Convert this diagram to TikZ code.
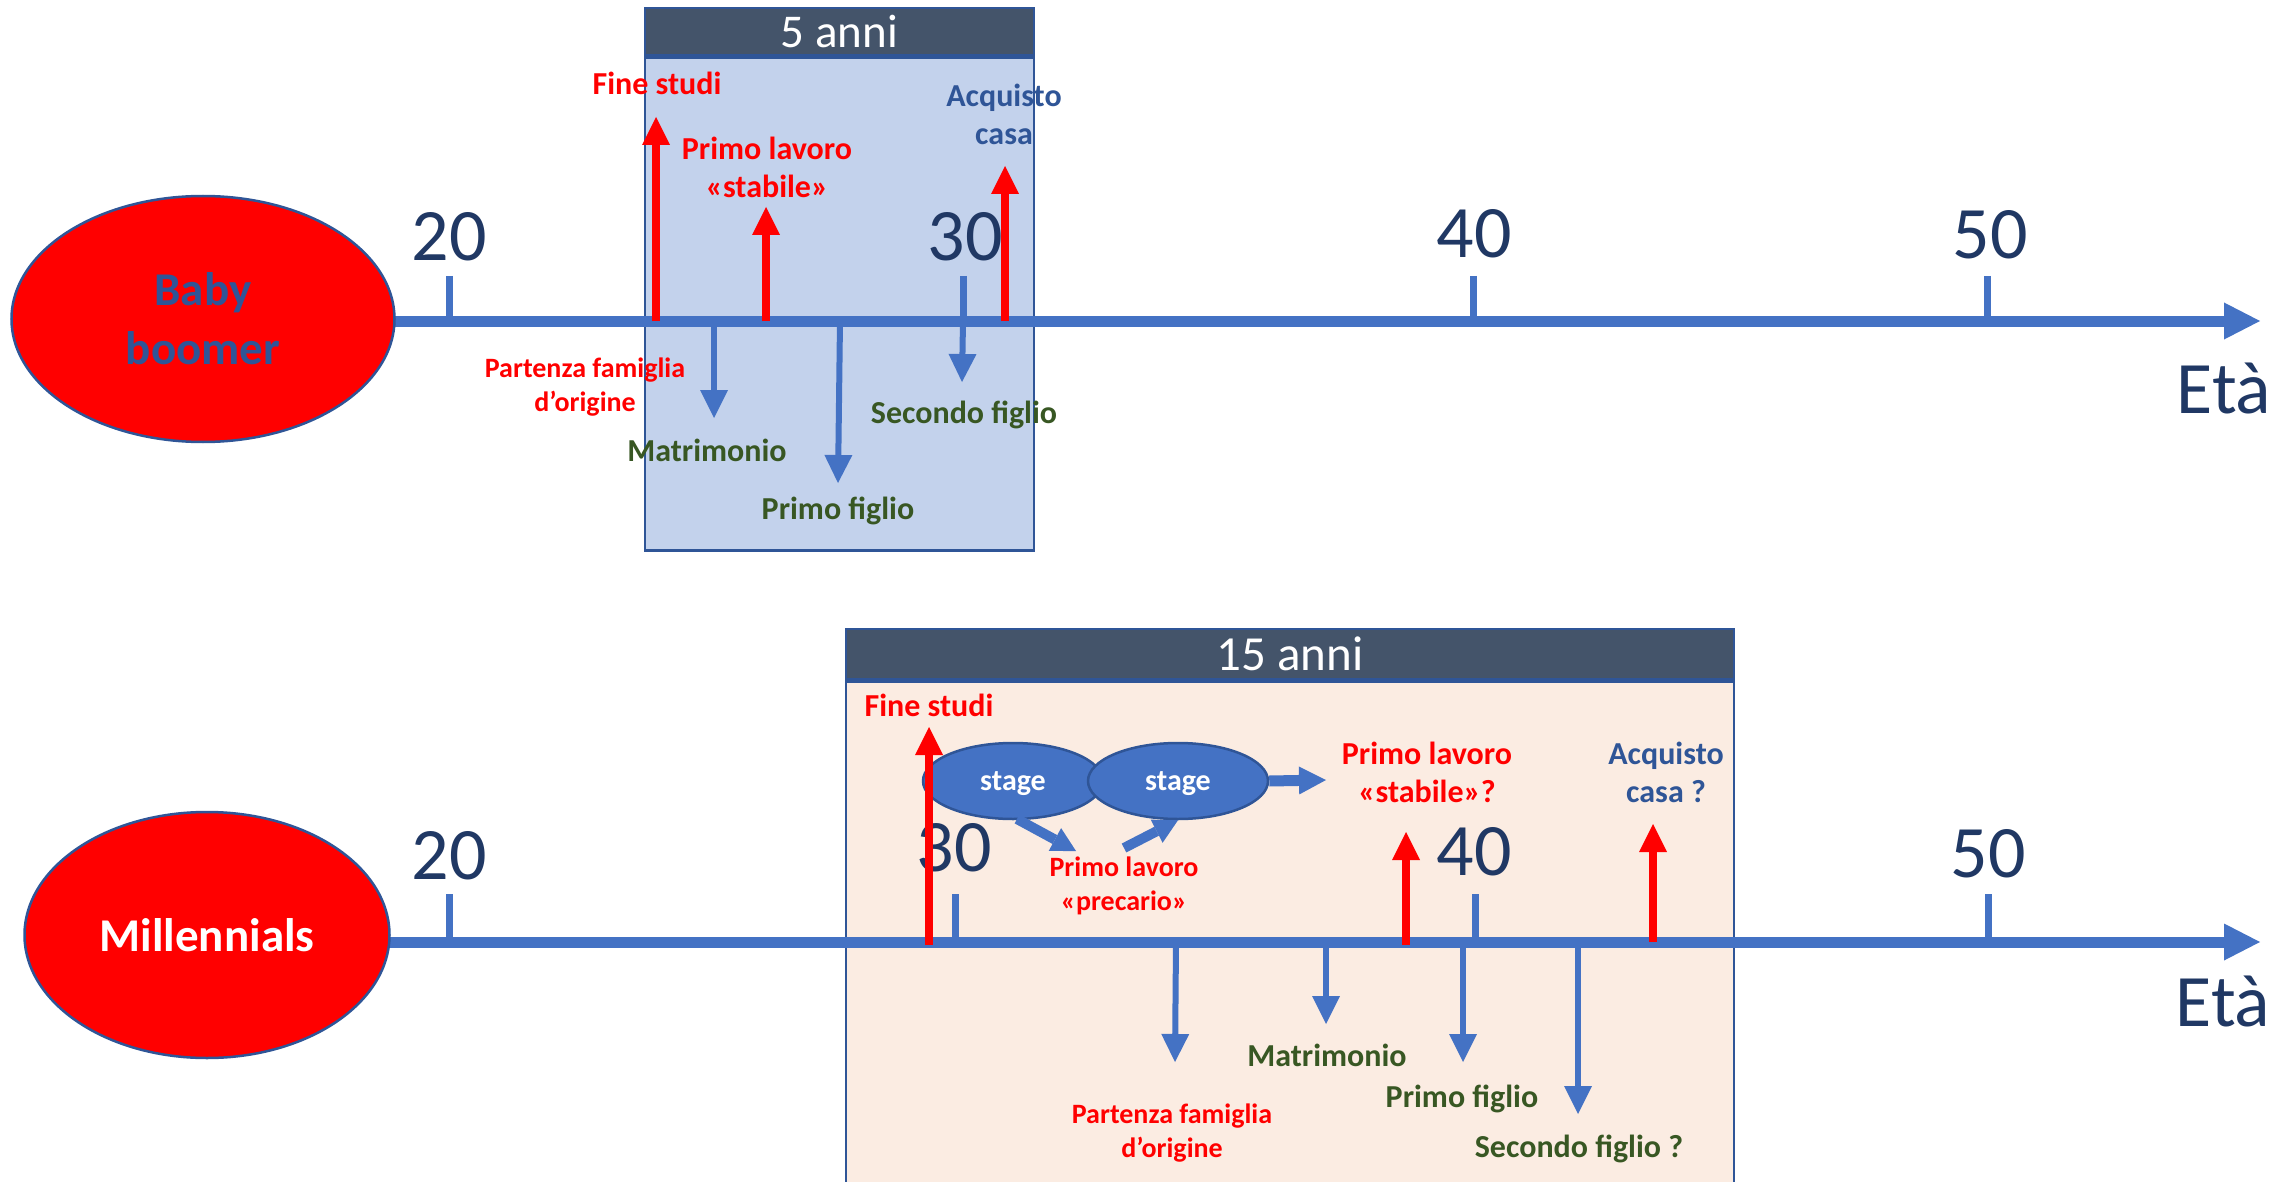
\documentclass[tikz,border=0pt]{standalone}
\usepackage{fontspec}
\setmainfont{Carlito}
\usetikzlibrary{arrows.meta,shapes.geometric}
\definecolor{axblue}{HTML}{4472C4}
\definecolor{txtblue}{HTML}{2F5597}
\definecolor{navy}{HTML}{203864}
\definecolor{grn}{HTML}{385723}
\definecolor{hdr}{HTML}{44546A}
\definecolor{boxblue}{HTML}{C3D2EC}
\definecolor{boxpeach}{HTML}{FBECE2}
\definecolor{bord}{HTML}{2F5597}
\tikzset{
 axisline/.style={draw=axblue, line width=11pt, -{Triangle[length=36pt,width=37pt,line width=0pt]}},
 tickmark/.style={draw=axblue, line width=7pt},
 ticklbl/.style={text=navy, font=\fontsize{74}{80}\selectfont},
 redup/.style={draw=red, line width=8pt, -{Triangle[length=28pt,width=28pt,line width=0pt]}},
 bluedown/.style={draw=axblue, line width=6pt, -{Triangle[length=28pt,width=28pt,line width=0pt]}},
 blockarrow/.style={draw=axblue, line width=11pt, -{Triangle[length=27pt,width=28pt,line width=0pt]}},
 diagarrow/.style={draw=axblue, line width=10pt, -{Triangle[length=24pt,width=26pt,line width=0pt]}},
 lbl/.style={font=\bfseries\fontsize{32}{38}\selectfont, align=center},
 lblsmall/.style={font=\bfseries\fontsize{28}{34}\selectfont, align=center},
 gen/.style={ellipse, fill=red, draw=bord, line width=2.5pt, font=\bfseries\fontsize{47}{59}\selectfont, align=center},
 hdrbox/.style={rectangle, fill=hdr, draw=bord, line width=2.5pt, text=white},
 stagebox/.style={ellipse, fill=axblue, draw=bord, line width=2.5pt, minimum width=180pt, minimum height=76pt, text=white, text depth=0pt, font=\bfseries\fontsize{30}{36}\selectfont},
}
\begin{document}
\begin{tikzpicture}[x=1pt,y=-1pt, every node/.style={inner sep=0pt}]
\useasboundingbox (0,0) rectangle (2294,1182);
\fill[white] (0,0) rectangle (2294,1182);
% ---------- boxes
\node[hdrbox, minimum width=389pt, minimum height=47pt, font=\fontsize{47}{54}\selectfont] (h1) at (839.5,31.5) {5 anni};
\node[rectangle, fill=boxblue, draw=bord, line width=2.5pt, minimum width=389pt, minimum height=493pt, anchor=north] (b1) at (h1.south) {};
\node[hdrbox, minimum width=888pt, minimum height=50pt, font=\fontsize{49}{56}\selectfont] (h2) at (1290,654) {15 anni};
\node[rectangle, fill=boxpeach, draw=bord, line width=2.5pt, minimum width=888pt, minimum height=530pt, anchor=north] (b2) at (h2.south) {};
% ---------- axes
\coordinate (st1) at (390,321);
\coordinate (end1) at (2260,321);
\coordinate (st2) at (386,942);
\coordinate (end2) at (2260,942);
\draw[axisline] (st1) -- (end1);
\draw[axisline] (st2) -- (end2);
% ---------- generation ellipses
\node[gen, minimum width=383pt, minimum height=246pt, text=txtblue] (bb) at (203,319) {Baby\\boomer};
\node[gen, minimum width=365pt, minimum height=246pt, text=white] (mil) at (207,935) {Millennials};
% ticks top
\draw[tickmark] (449,276) -- (449,321);
\draw[tickmark] (963,276) -- (963,321);
\draw[tickmark] (1473,276) -- (1473,321);
\draw[tickmark] (1987,276) -- (1987,321);
\node[ticklbl] (n20a) at (449,237) {20};
\node[ticklbl] (n30a) at (965,237) {30};
\node[ticklbl] (n40a) at (1474,234) {40};
\node[ticklbl] (n50a) at (1990,235) {50};
\node[ticklbl] (eta1) at (2224,388) {Età};
% ticks bottom
\draw[tickmark] (449,894) -- (449,942);
\draw[tickmark] (955,894) -- (955,942);
\draw[tickmark] (1475,894) -- (1475,942);
\draw[tickmark] (1988,894) -- (1988,942);
\node[ticklbl] (n20b) at (449,856) {20};
\node[ticklbl] (n30b) at (954,848) {30};
\node[ticklbl] (n40b) at (1474,852) {40};
\node[ticklbl] (n50b) at (1988,854) {50};
\node[ticklbl] (eta2) at (2223,1001) {Età};
% ---------- top events
\coordinate (aFS1) at (656,321); \coordinate (tFS1) at (656,117);
\coordinate (aPL1) at (766,321); \coordinate (tPL1) at (766,207);
\coordinate (aAC1) at (1005,321); \coordinate (tAC1) at (1005,166);
\coordinate (aMA1) at (714,321); \coordinate (tMA1) at (714,418);
\coordinate (aPF1) at (840,321); \coordinate (tPF1) at (838,483);
\coordinate (aSF1) at (963,321); \coordinate (tSF1) at (962,382);
\draw[redup] (aFS1) -- (tFS1);
\draw[redup] (aPL1) -- (tPL1);
\draw[redup] (aAC1) -- (tAC1);
\draw[bluedown] (aMA1) -- (tMA1);
\draw[bluedown] (aPF1) -- (tPF1);
\draw[bluedown] (aSF1) -- (tSF1);
\node[lbl, text=red] (fs1) at (657,83) {Fine studi};
\node[lbl, text=red] (pl1) at (767,167) {Primo lavoro\\«stabile»};
\node[lbl, text=txtblue] (ac1) at (1004,114) {Acquisto\\casa};
\node[lblsmall, text=red] (pa1) at (585,387) {Partenza famiglia\\d’origine};
\node[lbl, text=grn] (ma1) at (707,450) {Matrimonio};
\node[lbl, text=grn] (pf1) at (838,511) {Primo figlio};
\node[lbl, text=grn] (sf1) at (964,415) {Secondo figlio};
% ---------- bottom events
\node[stagebox] (s1) at (1013,781) {stage};
\node[stagebox] (s2) at (1178,781) {stage};
\node[lblsmall, text=red] (pp) at (1124,886) {Primo lavoro\\«precario»};
\node[lbl, text=red] (pl2) at (1427,772) {Primo lavoro\\«stabile»?};
\node[lbl, text=txtblue] (ac2) at (1666,772) {Acquisto\\casa ?};
\coordinate (tS2) at (1326,780);
\coordinate (aS1) at (1017,819);
\coordinate (tPP) at (1076,851);
\coordinate (aPP) at (1124,848);
\draw[blockarrow] (s2.east) -- (tS2);
\draw[diagarrow] (aS1) -- (tPP);
\draw[diagarrow] (aPP) -- (s2.south);
\coordinate (aFS2) at (929,945); \coordinate (tFS2) at (929,727);
\coordinate (aPL2) at (1406,945); \coordinate (tPL2) at (1406,832);
\coordinate (aAC2) at (1653,942); \coordinate (tAC2) at (1653,824);
\coordinate (aPA2) at (1176,942); \coordinate (tPA2) at (1175,1062);
\coordinate (aMA2) at (1326,942); \coordinate (tMA2) at (1326,1024);
\coordinate (aPF2) at (1463,942); \coordinate (tPF2) at (1463,1062);
\coordinate (aSF2) at (1578,942); \coordinate (tSF2) at (1578,1114);
\draw[redup] (aFS2) -- (tFS2);
\draw[redup] (aPL2) -- (tPL2);
\draw[redup] (aAC2) -- (tAC2);
\draw[bluedown] (aPA2) -- (tPA2);
\draw[bluedown] (aMA2) -- (tMA2);
\draw[bluedown] (aPF2) -- (tPF2);
\draw[bluedown] (aSF2) -- (tSF2);
\node[lbl, text=red] (fs2) at (929,705) {Fine studi};
\node[lblsmall, text=red] (pa2) at (1172,1133) {Partenza famiglia\\d’origine};
\node[lbl, text=grn] (ma2) at (1327,1055) {Matrimonio};
\node[lbl, text=grn] (pf2) at (1462,1099) {Primo figlio};
\node[lbl, text=grn] (sf2) at (1579,1149) {Secondo figlio ?};
\end{tikzpicture}
\end{document}
